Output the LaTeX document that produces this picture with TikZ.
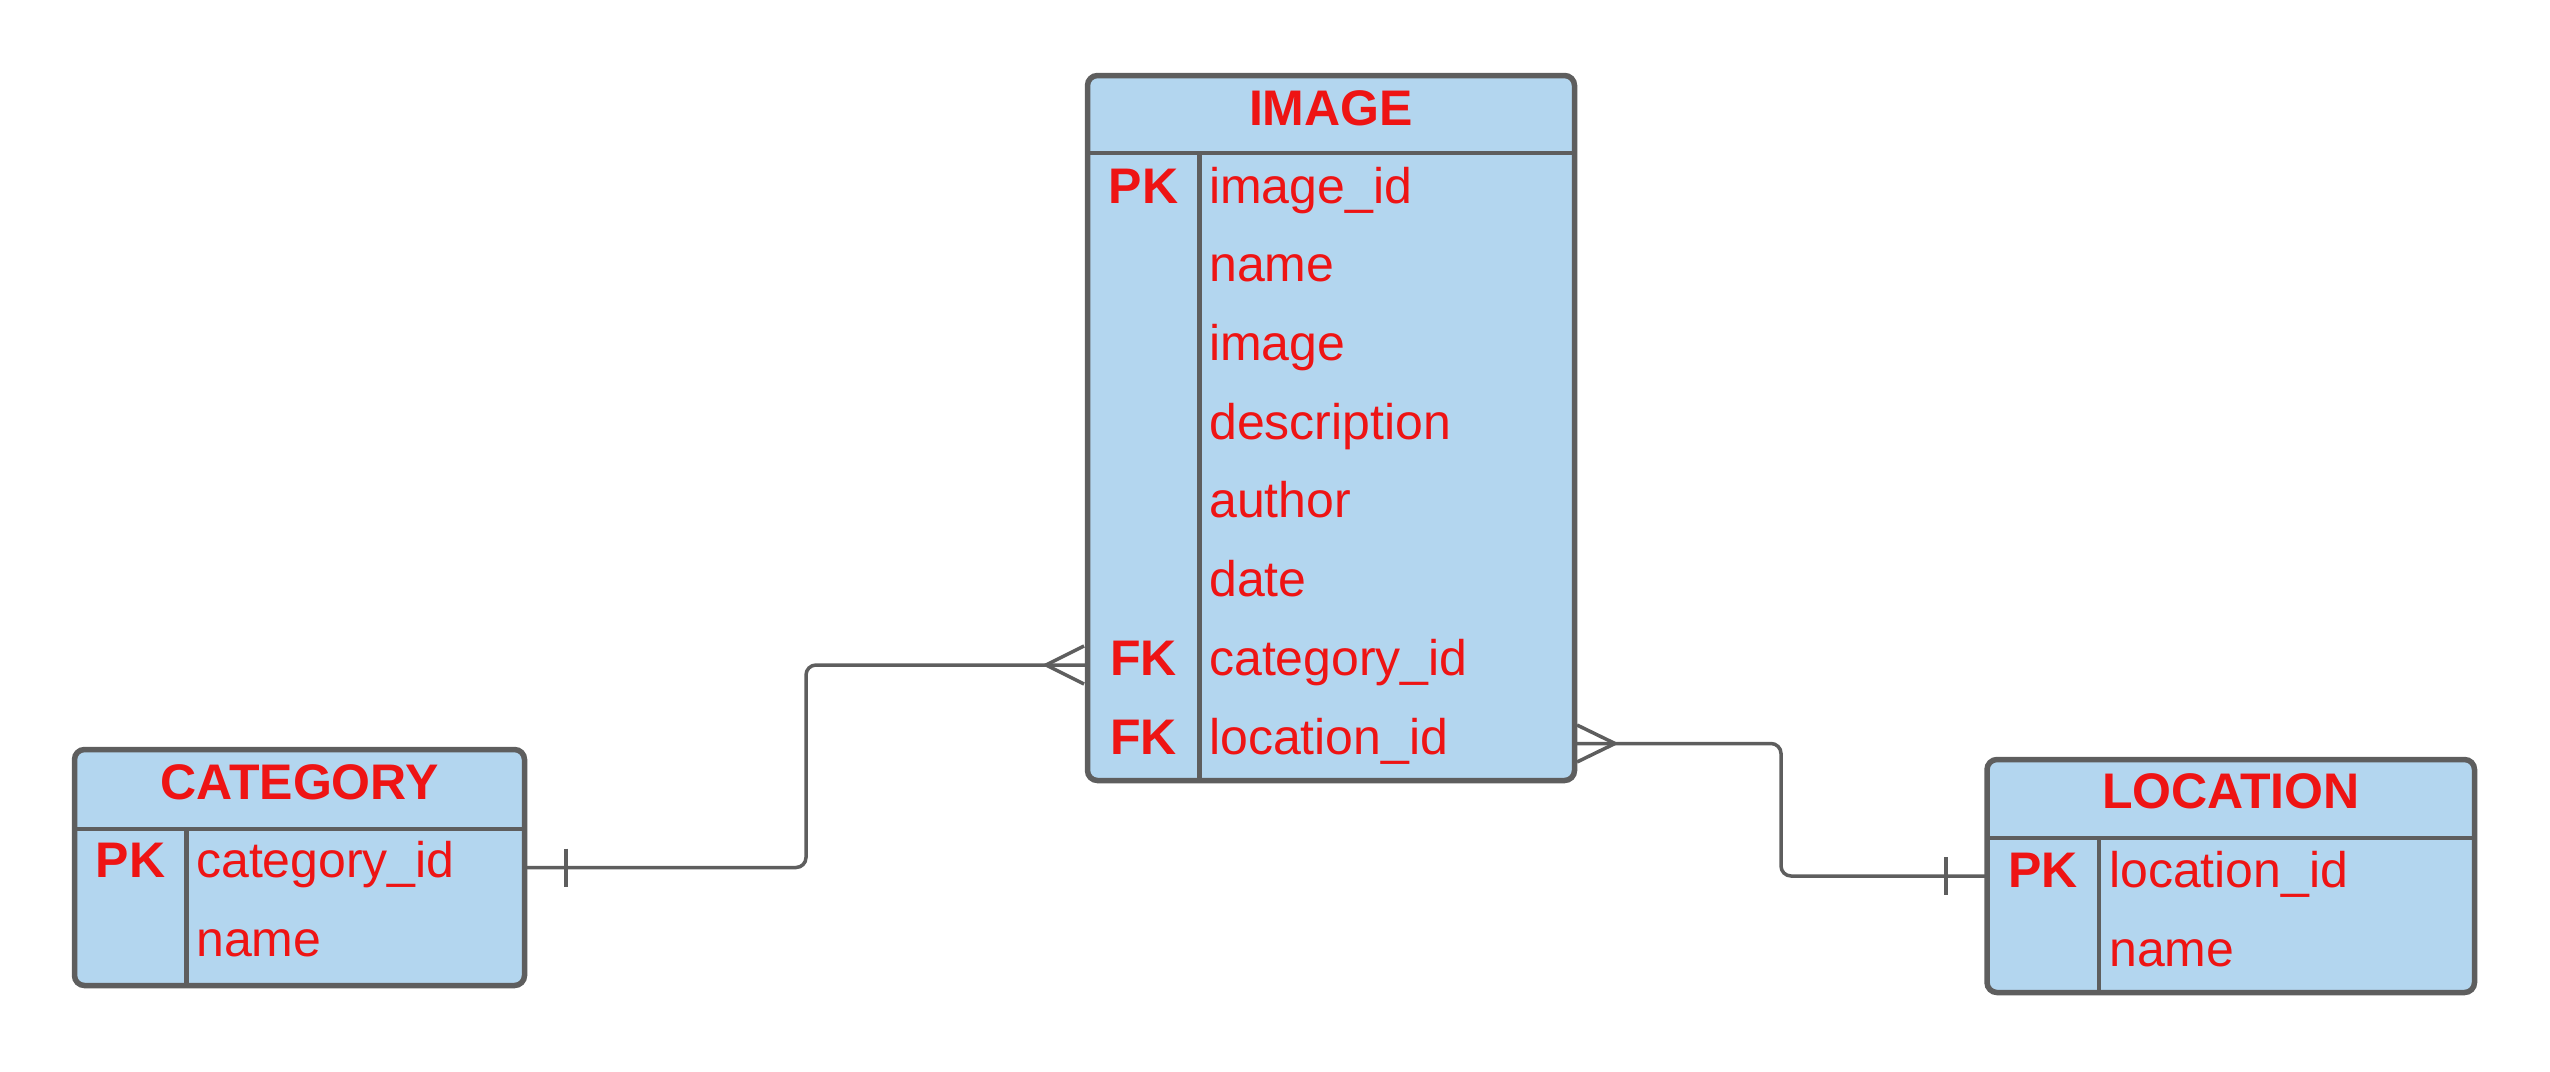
\documentclass[tikz,border=0pt]{standalone}
\usepackage{fontspec}
\setmainfont{Liberation Sans}
\definecolor{tblfill}{HTML}{B3D6EF}
\definecolor{tblline}{HTML}{5E5E5E}
\definecolor{txtred}{HTML}{EE1414}
\tikzset{
  tbl/.style={draw=tblline, fill=tblfill, line width=5.5pt, rounded corners=10pt, inner sep=0pt, outer sep=0pt},
  divline/.style={draw=tblline, line width=4.5pt},
  conn/.style={draw=tblline, line width=3.5pt},
  ttl/.style={text=txtred, font=\fontsize{50}{60}\selectfont\bfseries, anchor=base, inner sep=0pt},
  keytxt/.style={text=txtred, font=\fontsize{50}{60}\selectfont\bfseries, anchor=base, inner sep=0pt},
  fldtxt/.style={text=txtred, font=\fontsize{50}{60}\selectfont, anchor=base west, inner sep=0pt},
}
\begin{document}
\begin{tikzpicture}[x=1pt,y=-1pt]
\useasboundingbox (0,0) rectangle (2550,1071);
% tables
\node[tbl, minimum width=487pt, minimum height=705pt] (img) at (1331,428) {};
\node[tbl, minimum width=450pt, minimum height=236pt] (cat) at (299.5,867.5) {};
\node[tbl, minimum width=487.5pt, minimum height=233pt] (loc) at (2230.75,876) {};
% IMAGE internals
\draw[divline] (img.west |- 0,153) -- (img.east |- 0,153);
\draw[divline] (1199.5,153) -- (1199.5,780.5);
\node[ttl] (imgT) at (1331,125) {IMAGE};
\node[keytxt] (imgK1) at (1143.5,203) {PK};
\node[fldtxt] (imgF1) at (1209,203) {image\_id};
\node[fldtxt] (imgF2) at (1209,281.7) {name};
\node[fldtxt] (imgF3) at (1209,360.4) {image};
\node[fldtxt] (imgF4) at (1209,439.1) {description};
\node[fldtxt] (imgF5) at (1209,517.8) {author};
\node[fldtxt] (imgF6) at (1209,596.5) {date};
\node[keytxt] (imgK7) at (1143.5,675.2) {FK};
\node[fldtxt] (imgF7) at (1209,675.2) {category\_id};
\node[keytxt] (imgK8) at (1143.5,754) {FK};
\node[fldtxt] (imgF8) at (1209,754) {location\_id};
% CATEGORY internals
\draw[divline] (cat.west |- 0,829) -- (cat.east |- 0,829);
\draw[divline] (186.5,829) -- (186.5,985.5);
\node[ttl] (catT) at (299.5,799) {CATEGORY};
\node[keytxt] (catK1) at (130.5,877) {PK};
\node[fldtxt] (catF1) at (196,877) {category\_id};
\node[fldtxt] (catF2) at (196,956) {name};
% LOCATION internals
\draw[divline] (loc.west |- 0,838) -- (loc.east |- 0,838);
\draw[divline] (2099,838) -- (2099,992.5);
\node[ttl] (locT) at (2230.75,808) {LOCATION};
\node[keytxt] (locK1) at (2043,887) {PK};
\node[fldtxt] (locF1) at (2109,887) {location\_id};
\node[fldtxt] (locF2) at (2109,966) {name};
% connector helper coordinates
\coordinate (imgCatPort) at (img.west |- 0,665);
\coordinate (imgLocPort) at (img.east |- 0,743.5);
\coordinate (bendA1) at (806,867.5);
\coordinate (bendA2) at (806,665);
\coordinate (bendB1) at (1781,743.5);
\coordinate (bendB2) at (1781,876);
% CATEGORY -> IMAGE
\draw[conn, rounded corners=10pt] (cat.east) -- (bendA1) -- (bendA2) -- (imgCatPort);
\draw[conn] (566,848.5) -- (566,886.5);
\draw[conn] (1084,646) -- (1046,665) -- (1084,684);
% IMAGE -> LOCATION
\draw[conn, rounded corners=10pt] (imgLocPort) -- (bendB1) -- (bendB2) -- (loc.west);
\draw[conn] (1946,857) -- (1946,895);
\draw[conn] (1577,725) -- (1615,743.5) -- (1577,762);
\end{tikzpicture}
\end{document}
